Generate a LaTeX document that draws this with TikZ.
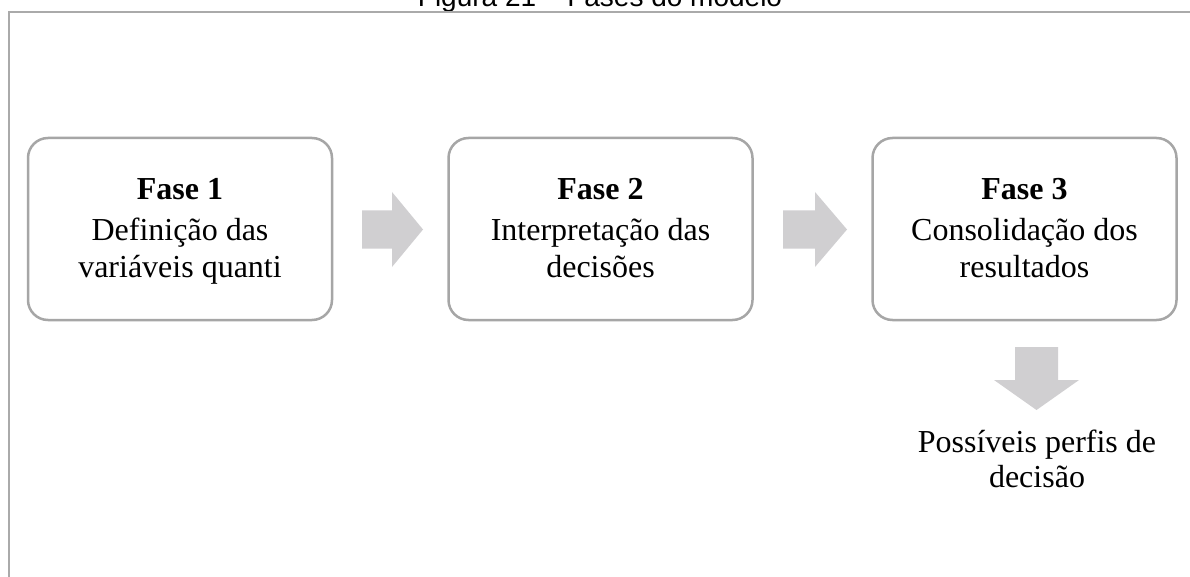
\documentclass[tikz,border=0pt]{standalone}
\usepackage{fontspec}
\setmainfont{Liberation Serif}
\newfontfamily\titlefont{Liberation Sans}
\definecolor{boxgray}{HTML}{A6A6A6}
\definecolor{arrowgray}{HTML}{D0CFD1}
\definecolor{framegray}{HTML}{AAAAAA}
\tikzset{
  phasebox/.style={draw=boxgray, line width=2.5pt, rounded corners=20pt,
    minimum width=304pt, minimum height=182pt, inner sep=0pt},
  phasetext/.style={align=center, inner sep=0pt, text height=100pt, text depth=4pt,
    font=\fontsize{32}{36.5}\selectfont},
  blockarrow/.style={fill=arrowgray, draw=none},
  frameline/.style={draw=framegray, line width=2pt},
}
\begin{document}
\begin{tikzpicture}[x=1pt,y=-1pt]
\useasboundingbox (0,0) rectangle (1190,577);
\clip (0,0) rectangle (1190,577);
\fill[white] (0,0) rectangle (1190,577);
% title (cut off at the top)
\node[font=\titlefont\fontsize{28}{30}\selectfont, anchor=base, inner sep=0pt] (title) at (600,7) {Figura 21 – Fases do modelo};
% frame
\draw[frameline] (9,577) -- (9,12) -- (1190,12);
% boxes
\node[phasebox] (b1) at (180,229) {};
\node[phasebox] (b2) at (600.5,229) {};
\node[phasebox] (b3) at (1024.5,229) {};
\node[phasetext] (t1) at (b1.center) {\textbf{Fase 1}\\[5pt]Definição das\\variáveis quanti};
\node[phasetext] (t2) at (b2.center) {\textbf{Fase 2}\\[5pt]Interpretação das\\decisões};
\node[phasetext] (t3) at (b3.center) {\textbf{Fase 3}\\[5pt]Consolidação dos\\resultados};
% block arrows
\fill[blockarrow] (362,210.5) -- (392,210.5) -- (392,192) -- (423,229.5) -- (392,267) -- (392,248.5) -- (362,248.5) -- cycle;
\fill[blockarrow] (783,210.5) -- (815,210.5) -- (815,192) -- (847,229.5) -- (815,267) -- (815,248.5) -- (783,248.5) -- cycle;
\fill[blockarrow] (1015,347) -- (1058,347) -- (1058,380) -- (1079,380) -- (1036.5,410) -- (994,380) -- (1015,380) -- cycle;
% result text
\node[align=center, inner sep=0pt, text height=57pt, text depth=0pt, font=\fontsize{32}{35}\selectfont] (res) at (1037,458.5) {Possíveis perfis de\\decisão};
\end{tikzpicture}
\end{document}
